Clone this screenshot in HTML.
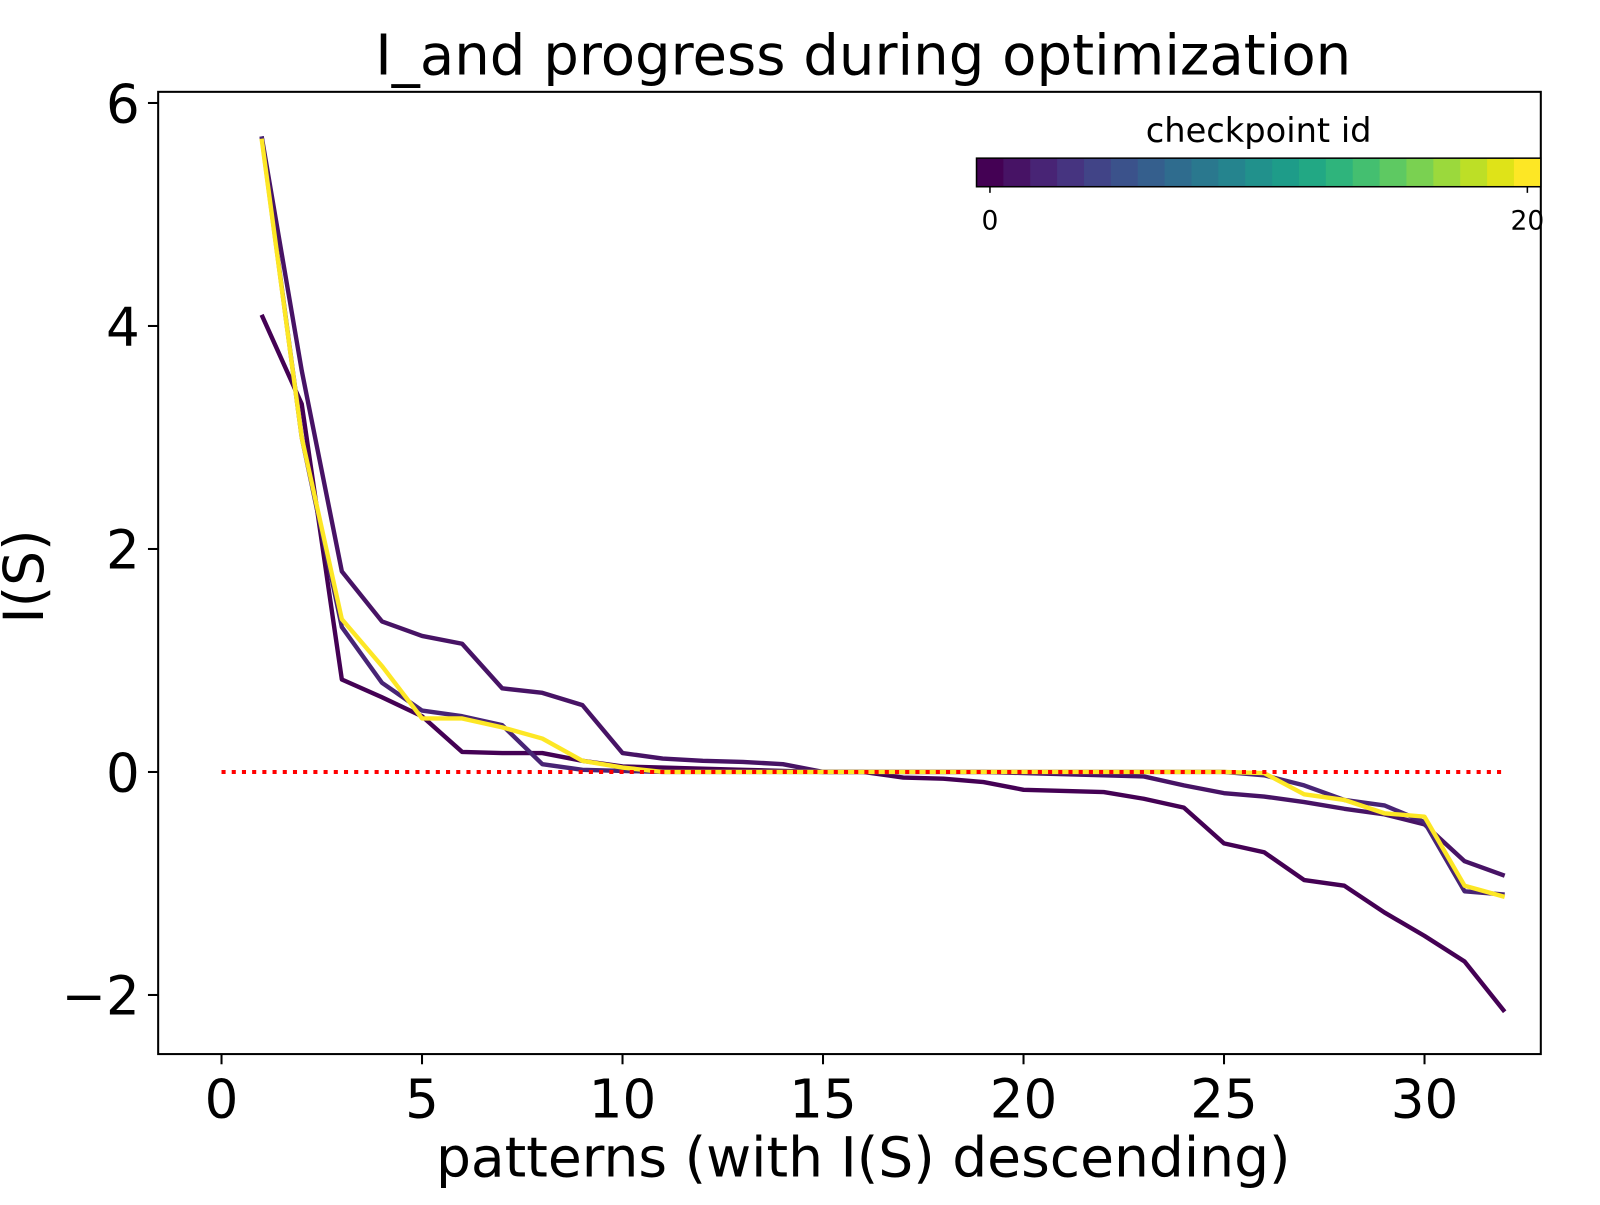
<!DOCTYPE html>
<html><head><meta charset="utf-8"><style>
html,body{margin:0;padding:0;background:#fff;}
svg text{font-family:"DejaVu Sans","Liberation Sans",sans-serif;fill:#000;}
</style></head><body>
<svg id="chart" width="1600" height="1200" viewBox="0 0 1600 1200" xmlns="http://www.w3.org/2000/svg">
<g transform="scale(1.0204)">
<text x="846" y="73" font-size="55" text-anchor="middle">I_and progress during optimization</text>
<g id="plot"></g>
<text x="846" y="1153" font-size="54" text-anchor="middle">patterns (with I(S) descending)</text>
<text transform="translate(42,565) rotate(-90)" font-size="54" text-anchor="middle">I(S)</text>
</g>
</svg>
<script>
const xTicks=[0,5,10,15,20,25,30];
const yTicks=[-2,0,2,4,6];
const yTickLabels=["\u22122","0","2","4","6"];
const ids=[0,1,2,20];
const sA=[4.1,3.3,0.83,0.67,0.5,0.18,0.17,0.17,0.1,0.05,0.04,0.03,0.02,0.01,0,0,-0.05,-0.06,-0.09,-0.16,-0.17,-0.18,-0.24,-0.32,-0.64,-0.72,-0.97,-1.02,-1.26,-1.47,-1.7,-2.15];
const sB=[5.7,3.6,1.8,1.35,1.22,1.15,0.75,0.71,0.6,0.17,0.12,0.1,0.09,0.07,0,0,0,0,0,-0.01,-0.02,-0.03,-0.04,-0.12,-0.19,-0.22,-0.27,-0.33,-0.38,-0.47,-0.8,-0.93];
const sC=[5.7,3.0,1.3,0.8,0.55,0.5,0.42,0.07,0.02,0.01,0,0,0,0,0,0,0,0,0,0,0,0,0,0,0,-0.03,-0.12,-0.25,-0.3,-0.45,-1.07,-1.1];
const sY=[5.68,3.0,1.37,0.95,0.48,0.48,0.4,0.3,0.1,0.04,0,0,0,0,0,0,0,0,0,0,0,0,0,0,0,-0.01,-0.2,-0.25,-0.37,-0.4,-1.02,-1.12];
const series=[sA,sB,sC,sY];
const viridis=["#440154","#471365","#482475","#463480","#414487","#3b528b","#355f8d","#2f6c8e","#2a788e","#25848e","#21918c","#1e9c89","#22a884","#2fb47c","#44bf70","#5ec962","#7ad151","#9bd93c","#bddf26","#dfe318","#fde725"];
const cbTicks=[0,20];

const NS="http://www.w3.org/2000/svg";
const L=155,R=1510,T=90,B=1033;
const xMin=-1.58,xMax=32.9,yMin=-2.53,yMax=6.1;
const X=v=>L+(v-xMin)/(xMax-xMin)*(R-L);
const Y=v=>B-(v-yMin)/(yMax-yMin)*(B-T);
const g=document.getElementById('plot');
function mk(t,a){const e=document.createElementNS(NS,t);for(const k in a)e.setAttribute(k,a[k]);g.appendChild(e);return e;}

series.forEach((s,i)=>{
  const d=s.map((v,j)=>(j?'L':'M')+X(j+1).toFixed(1)+','+Y(v).toFixed(1)).join(' ');
  const p=mk('path',{d:d,fill:'none',stroke:viridis[ids[i]],'stroke-width':4.3,'stroke-linejoin':'round'});
  
  
});
const zl=mk('line',{x1:X(0),x2:X(32),y1:Y(0),y2:Y(0),stroke:'#ff0000','stroke-width':4,'stroke-dasharray':'4 6'});



const fr=mk('rect',{x:L,y:T,width:R-L,height:B-T,fill:'none',stroke:'#000','stroke-width':2});



xTicks.forEach(v=>{
  const t=mk('line',{x1:X(v),x2:X(v),y1:B,y2:B+10,stroke:'#000','stroke-width':2});
  
  
  const l=mk('text',{x:X(v),y:B+62,'font-size':52,'text-anchor':'middle'});
  l.textContent=v;
  
  
});
yTicks.forEach((v,i)=>{
  const t=mk('line',{x1:L-10,x2:L,y1:Y(v),y2:Y(v),stroke:'#000','stroke-width':2});
  
  
  const l=mk('text',{x:L-18,y:Y(v)+19,'font-size':52,'text-anchor':'end'});
  l.textContent=yTickLabels[i];
  
  
});

// colorbar
const cbL=957,cbR=1510,cbT=155,cbB=183;
const cw=(cbR-cbL)/viridis.length;
viridis.forEach((c,i)=>{
  const r=mk('rect',{x:cbL+i*cw,y:cbT,width:cw+0.6,height:cbB-cbT,fill:c});
  
  
});
const cbf=mk('rect',{x:cbL,y:cbT,width:cbR-cbL,height:cbB-cbT,fill:'none',stroke:'#000','stroke-width':1.5});


const cbX=v=>cbL+(v+0.5)*cw;
cbTicks.forEach(v=>{
  const t=mk('line',{x1:cbX(v),x2:cbX(v),y1:cbB,y2:cbB+6,stroke:'#000','stroke-width':1.5});
  
  
  const l=mk('text',{x:cbX(v),y:cbB+42,'font-size':26,'text-anchor':'middle'});
  l.textContent=v;
  
  
});
const ct=mk('text',{x:(cbL+cbR)/2,y:139,'font-size':33,'text-anchor':'middle'});
ct.textContent='checkpoint id';


</script>
</body></html>
